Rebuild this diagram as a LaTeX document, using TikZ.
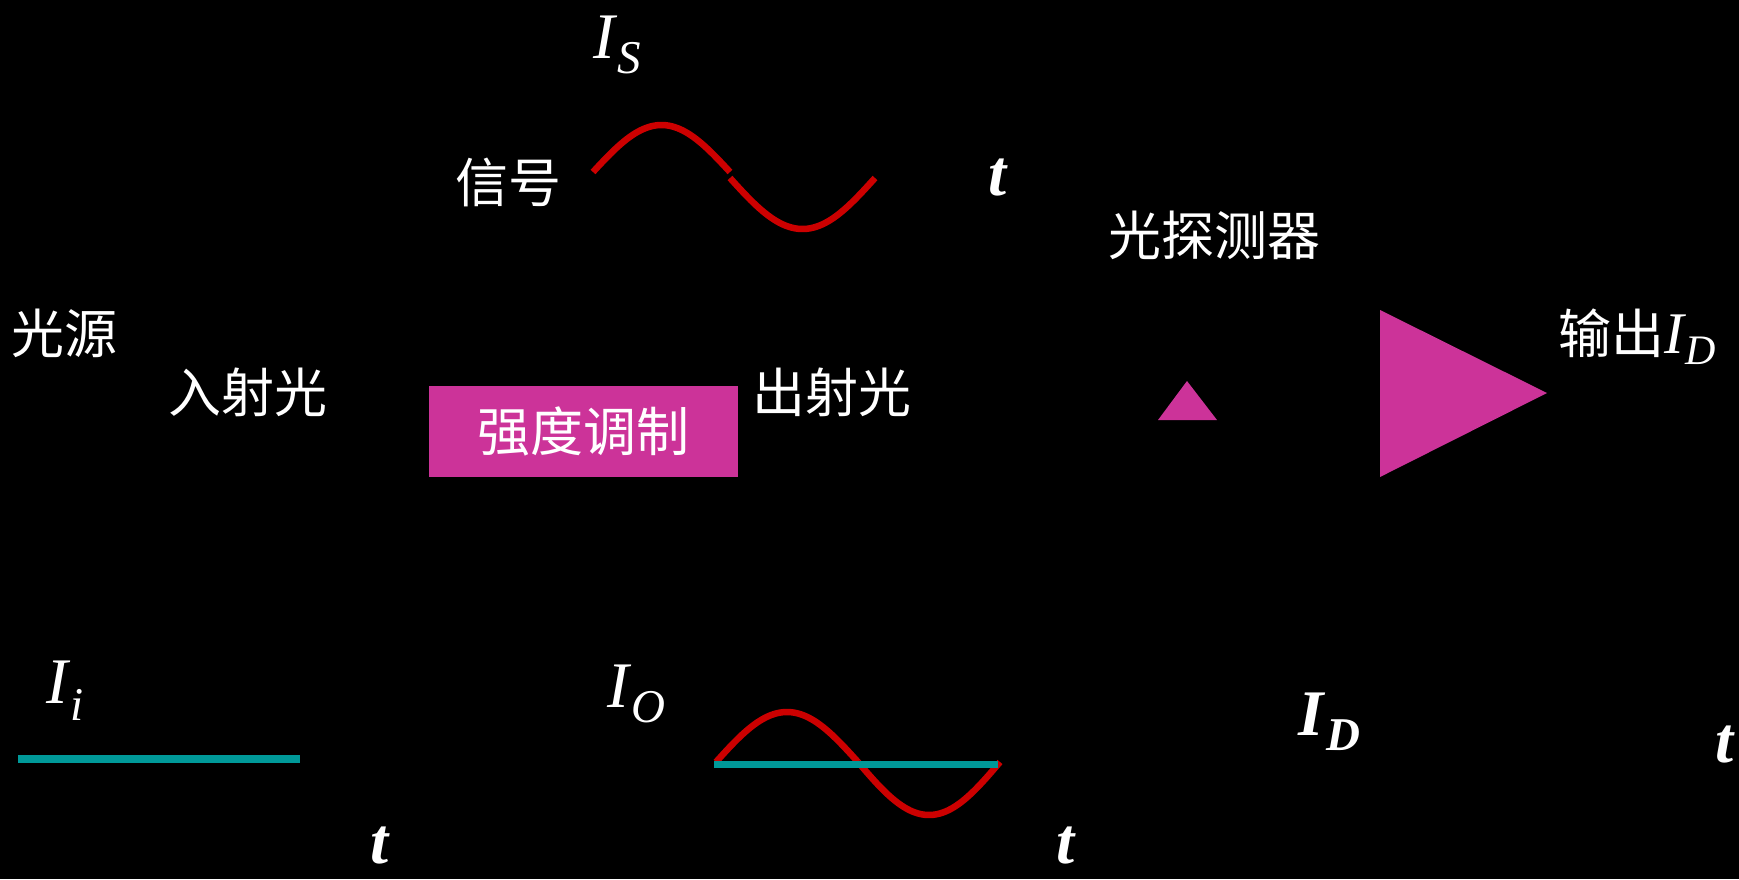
\documentclass[tikz,border=0pt]{standalone}
\usepackage{fontspec}
\setmainfont{Liberation Serif}
\newfontfamily\cjk{Noto Sans CJK SC}
\definecolor{mag}{HTML}{CC3399}
\definecolor{sigred}{HTML}{CC0000}
\definecolor{teal}{HTML}{009999}
\newcommand{\lowsub}[2]{\kern3pt\raisebox{-#1}{\fontsize{47}{47}\selectfont #2}}
\begin{document}
\begin{tikzpicture}[x=1pt,y=-1pt,
  cn/.style={text=white, inner sep=0pt, font=\cjk\fontsize{53}{58}\selectfont},
  sym/.style={text=white, inner sep=0pt, anchor=base west, font=\itshape\fontsize{65}{70}\selectfont},
  symb/.style={sym, font=\bfseries\itshape\fontsize{65}{70}\selectfont},
  modbox/.style={fill=mag, inner sep=0pt, minimum width=309pt, minimum height=91pt, text=white, font=\cjk\fontsize{53}{58}\selectfont},
  wave/.style={draw=sigred, line width=6.5pt},
  flat/.style={draw=teal, line width=8pt},
  tri/.style={fill=mag}]
\fill[black] (0,0) rectangle (1739,879);
\useasboundingbox (0,0) rectangle (1739,879);
% labels
\node[sym] (IS) at (593,58) {I\lowsub{15pt}{S}};
\node[cn] (xinhao) at (508,182) {信号};
\node[symb] (t1) at (988,195) {t};
\node[cn] (tance) at (1214,235) {光探测器};
\node[cn] (guangyuan) at (65,333) {光源};
\node[cn] (rushe) at (248,392) {入射光};
\node[cn] (chushe) at (832,392) {出射光};
\node[modbox] (mod) at (583.5,431.5) {\raisebox{-3pt}{强度调制}};
\node[text=white, inner sep=0pt, anchor=base west] (out) at (1558,353)
  {{\cjk\fontsize{53}{58}\selectfont 输出}{\itshape\fontsize{59}{64}\selectfont I\kern2pt\raisebox{-11pt}{\fontsize{42}{42}\selectfont D}}};
\node[sym] (Ii) at (46,703) {I\lowsub{17pt}{i}};
\node[sym] (IO) at (607,707) {I\lowsub{15pt}{O}};
\node[symb] (ID) at (1298,735) {I\lowsub{15pt}{D}};
\node[symb] (t2) at (370,863) {t};
\node[symb] (t3) at (1056,863) {t};
\node[symb] (t4) at (1715,762) {t};
% signal wave (two halves)
\draw[wave] plot[domain=0:180, samples=50] ({593+\x/180*137}, {172-47*sin(\x)});
\draw[wave] plot[domain=180:360, samples=50] ({730+(\x-180)/180*145}, {178-51*sin(\x)});
% output wave
\draw[wave] plot[domain=0:180, samples=50] ({716+\x/360*284}, {762-50*sin(\x)});
\draw[wave] plot[domain=180:360, samples=50] ({716+\x/360*284}, {762-53*sin(\x)});
% constant intensities
\coordinate (a1) at (18,759); \coordinate (a2) at (300,759);
\draw[flat] (a1) -- (a2);
\coordinate (b1) at (714,764); \coordinate (b2) at (998,764);
\draw[flat, line width=7pt] (b1) -- (b2);
% detector and amplifier
\fill[tri] (1158,420) -- (1217,420) -- (1187,381) -- cycle;
\fill[tri] (1380,310) -- (1380,477) -- (1547,393) -- cycle;
\end{tikzpicture}
\end{document}
